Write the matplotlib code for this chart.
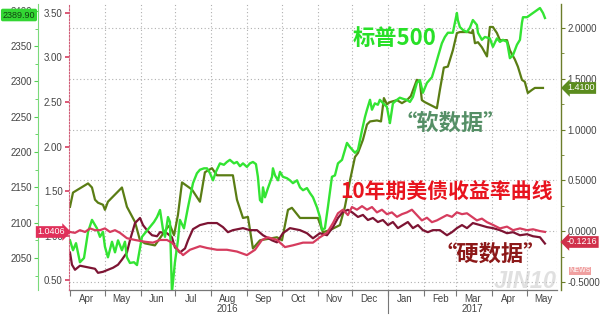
import matplotlib
matplotlib.use('Agg')
import matplotlib.pyplot as plt
import datetime as dt

# ---------------- data (x = days since 2016-04-01) ----------------
BASE = dt.date(2016, 4, 1)

sp_day = [0, 2.6, 5.2, 8.6, 12.1, 15.6, 19, 23.3, 25.9, 28.5, 30.2, 32.8, 36.3, 38.9, 41.5, 44.9, 47.5,
          49.2, 51.8, 55.3, 57.9, 62.2, 65.7, 69.1, 72.6, 75.2, 77.8, 80.4, 82.1, 84.7, 86.4, 88.1, 90.7,
          93.3, 95, 98.5, 102, 106.3, 109.7, 112.3, 115.8, 118.4, 121, 123.6, 126.1, 129.6, 133, 135.6,
          138.2, 141.7, 144.3, 146.9, 149.5, 152.9, 155.5, 158.1, 160.7, 162.4, 164.2, 165.9, 166.8,
          168.5, 171.1, 174.6, 175.4, 177.2, 179.8, 181.5, 184, 187.5, 190.1, 192.7, 196.2, 198.8, 201.4,
          204.8, 207.4, 210, 213.4, 216, 217.7, 220.3, 222.9, 226.4, 229, 231.6, 235.1, 239.4, 242,
          246.3, 248.9, 252.4, 255, 256.7, 259.3, 261, 263.5, 266.1, 267.8, 271.3, 273.9, 276.5, 279.1,
          282.6, 285.1, 288.6, 291.2, 293.8, 296.4, 299.8, 302.4, 305, 308.5, 312.8, 315.4, 318, 321.4,
          324, 326.6, 330.9, 334.4, 335.2, 337, 339.6, 343, 345.6, 348.2, 351.7, 352.6, 356, 358.6,
          362.9, 365.5, 369, 371.6, 374.2, 377.7, 378.5, 380.2, 382.8, 386.3, 388.9, 390.6, 391.5, 395,
          397.6, 400.2, 403.6, 406.2, 408.8, 410.5]
sp_val = [2075, 2061, 2071, 2044, 2050, 2087, 2104, 2092, 2080, 2087, 2066, 2051, 2073, 2058, 2075,
          2061, 2073, 2051, 2043, 2044, 2040, 2080, 2087, 2094, 2101, 2108, 2118, 2090, 2080, 2108,
          2101, 2001, 2044, 2075, 2104, 2092, 2122, 2156, 2170, 2175, 2177, 2177, 2170, 2160, 2172,
          2184, 2182, 2186, 2189, 2184, 2186, 2180, 2184, 2179, 2184, 2186, 2183, 2165, 2132, 2129,
          2150, 2136, 2149, 2165, 2177, 2167, 2160, 2172, 2165, 2163, 2160, 2156, 2160, 2150, 2146,
          2149, 2142, 2136, 2122, 2108, 2090, 2092, 2122, 2165, 2167, 2184, 2189, 2213, 2207, 2199,
          2203, 2231, 2250, 2260, 2274, 2260, 2269, 2267, 2274, 2268, 2264, 2241, 2269, 2274, 2277,
          2275, 2274, 2271, 2278, 2298, 2302, 2284, 2298, 2306, 2320, 2335, 2354, 2363, 2369, 2369,
          2397, 2387, 2377, 2373, 2370, 2376, 2387, 2380, 2369, 2359, 2363, 2361, 2349, 2361, 2356,
          2359, 2356, 2349, 2333, 2337, 2352, 2359, 2383, 2391, 2391, 2394, 2397, 2401, 2404, 2397,
          2389.9]

soft_day = [0, 2.6, 6.9, 15.6, 19, 21.6, 24.2, 28.5, 30.2, 32.8, 44.9, 49.2, 56.2, 60.5, 64.8, 73.4,
            83.8, 86.4, 89.9, 93.3, 96.8, 105.4, 112.3, 116.6, 122.7, 127, 140.8, 144.3, 149.5, 153.8,
            158.1, 164.2, 178.9, 183.2, 188.4, 191.8, 198.8, 214.3, 218.6, 224.6, 233.3, 237.6, 242,
            246.3, 248.9, 253.2, 256.7, 259.3, 265.3, 268.8, 271.3, 273.9, 276.5, 282.6, 286.9, 291.2,
            294.6, 299.8, 302.4, 304.1, 306.7, 317.1, 319.7, 323.1, 326.6, 330.9, 334.4, 337, 343.9,
            347.3, 348.2, 350, 352.6, 356, 360.4, 362.9, 365.5, 369, 371.6, 377.7, 380.2, 384.5, 387.1,
            390.6, 393.1, 395.7, 399.2, 401.8, 408.8]
soft_val = [0.24, 0.38, 0.41, 0.47, 0.43, 0.31, 0.28, 0.26, 0.21, 0.29, 0.43, 0.24, 0.09, -0.09,
            -0.12, -0.14, 0.03, 0.06, -0.04, 0.16, 0.48, 0.41, 0.29, 0.58, 0.62, 0.55, 0.55, 0.31,
            0.13, 0.14, -0.17, -0.09, -0.06, -0.09, 0.21, 0.23, 0.13, 0.13, -0.01, 0.01, 0.06, 0.24,
            0.50, 0.73, 0.77, 0.90, 1.05, 1.08, 1.09, 1.08, 1.31, 1.25, 1.27, 1.29, 1.26, 1.29, 1.33,
            1.49, 1.47, 1.29, 1.27, 1.21, 1.39, 1.61, 1.62, 1.78, 1.95, 1.96, 1.96, 1.95, 1.98, 1.85,
            1.86, 1.81, 1.72, 2.01, 2.01, 1.95, 1.88, 1.88, 1.78, 1.69, 1.62, 1.49, 1.47, 1.36, 1.39,
            1.41, 1.41]

hard_day = [0, 1.7, 4.3, 8.6, 13, 17.3, 21.6, 24.2, 28.5, 32.8, 37.2, 41.5, 44.9, 49.2, 51.8, 56.2,
            60.5, 63.1, 66.5, 70.9, 75.2, 77.8, 83.8, 88.1, 90.7, 95, 99.4, 102, 106.3, 112.3, 119.2,
            127, 132.2, 136.5, 140.8, 149.5, 155.5, 161.6, 166.8, 174.6, 178.9, 184, 190.1, 198.8,
            204.8, 210, 216, 222.1, 227.3, 231.6, 235.9, 240.2, 244.5, 248.9, 253.2, 257.5, 261.8,
            266.1, 270.4, 274.8, 279.1, 283.4, 287.7, 292, 296.4, 300.7, 305, 309.3, 313.6, 319.7,
            325.8, 330.1, 334.4, 338.8, 343.1, 348.2, 354.4, 360.4, 365.5, 371.6, 377.7, 382.9, 388.9,
            395, 400.2, 406.2, 410.5]
hard_val = [-0.21, -0.33, -0.38, -0.34, -0.35, -0.36, -0.37, -0.41, -0.40, -0.38, -0.36, -0.33,
            -0.28, -0.21, -0.09, 0.08, 0.13, 0.06, 0.01, -0.04, -0.05, -0.01, -0.02, -0.06, -0.16,
            -0.21, -0.17, -0.09, 0.02, 0.06, 0.08, 0.08, 0.04, -0.01, 0.01, 0.03, 0.01, 0.01, -0.04,
            -0.09, -0.11, -0.02, 0.03, 0.01, -0.02, -0.07, -0.02, -0.04, 0.04, 0.13, 0.19, 0.21, 0.18,
            0.14, 0.16, 0.11, 0.13, 0.09, 0.11, 0.06, 0.09, 0.03, 0.06, 0.09, 0.03, 0.06, 0.01, -0.01,
            0.01, 0.01, -0.04, -0.01, 0.03, 0.06, 0.03, 0.08, 0.06, 0.04, 0.03, 0.01, -0.02, -0.01,
            -0.04, -0.03, -0.05, -0.06, -0.1216]

spread_day = [0, 4.3, 8.6, 13, 17.3, 21.6, 25.9, 30.2, 34.6, 38.9, 43.2, 49.2, 56.2, 64.8, 71.7, 77.8,
              83.8, 88.1, 93.3, 97.7, 103.7, 112.3, 118.4, 127, 135.6, 144.3, 152.9, 159.9, 165.9,
              171.1, 178.9, 185.8, 192.7, 201.4, 210, 216, 222.1, 227.3, 231.6, 235.9, 240.2, 243.7,
              248, 252.4, 256.7, 261, 265.3, 269.6, 273.9, 278.2, 282.6, 286.9, 291.2, 295.5, 299.8,
              304.1, 308.5, 312.8, 317.1, 321.4, 325.8, 330.1, 334.4, 338.8, 343.1, 347.4, 351.7, 356,
              360.4, 365.5, 371.6, 377.7, 382.9, 388.9, 395, 400.2, 406.2, 410.5]
spread_val = [1.04, 1.03, 1.06, 1.04, 1.08, 1.06, 1.06, 1.08, 1.04, 1.06, 1.03, 0.97, 0.95, 0.93,
              0.92, 0.95, 0.95, 0.92, 0.84, 0.78, 0.84, 0.88, 0.86, 0.84, 0.84, 0.82, 0.78, 0.84, 0.95,
              0.98, 0.95, 0.87, 0.89, 0.92, 0.92, 0.98, 1.03, 1.14, 1.25, 1.29, 1.23, 1.32, 1.29, 1.33,
              1.29, 1.32, 1.26, 1.29, 1.24, 1.26, 1.21, 1.24, 1.26, 1.29, 1.23, 1.17, 1.20, 1.15, 1.17,
              1.20, 1.23, 1.21, 1.26, 1.24, 1.25, 1.21, 1.17, 1.19, 1.15, 1.12, 1.08, 1.10, 1.06, 1.08,
              1.06, 1.07, 1.05, 1.0406]

month_labels = ['Apr', 'May', 'Jun', 'Jul', 'Aug', 'Sep', 'Oct', 'Nov', 'Dec',
                'Jan', 'Feb', 'Mar', 'Apr', 'May']
sp_ticks = [2050, 2100, 2150, 2200, 2250, 2300, 2350, 2400]
spread_ticks = [0.5, 1.0, 1.5, 2.0, 2.5, 3.0, 3.5]
right_ticks = [-0.5, 0.0, 0.5, 1.0, 1.5, 2.0]

# ---------------- styling ----------------
C_SP = '#33e433'
C_SOFT = '#5a7d14'
C_SPREAD = '#d63c5e'
C_HARD = '#7d1433'
C_TXT = '#444444'
plt.rcParams['font.family'] = ['Liberation Sans', 'Noto Sans CJK SC', 'DejaVu Sans']
CJK = ['Noto Sans CJK SC', 'DejaVu Sans']

W, H = 600, 315
L, R, T, B = 69, 557, 4, 290
PXD = 1.157  # px per day
fig = plt.figure(figsize=(W / 100, H / 100), dpi=100)
fig.patch.set_facecolor('white')
rect = [L / W, 1 - B / H, (R - L) / W, (B - T) / H]

ax = fig.add_axes(rect)          # soft / hard data, right axis
ax_sp = ax.twinx()               # S&P 500, outer left axis
ax_yc = ax.twinx()               # yield curve, inner left axis

xmin = (L - 70) / PXD
xmax = (R - 70) / PXD
for a in (ax, ax_sp, ax_yc):
    a.set_xlim(xmin, xmax)
    a.patch.set_visible(False)
    for s in a.spines.values():
        s.set_visible(False)

ax.set_ylim(-0.579, 2.236)
ax_sp.set_ylim(2004.7, 2409.7)
ax_yc.set_ylim(0.388, 3.601)

# month positions
month_starts = []
d = dt.date(2016, 4, 1)
while d <= dt.date(2017, 5, 1):
    month_starts.append((d - BASE).days)
    d = dt.date(d.year + (d.month // 12), d.month % 12 + 1, 1)
mid_months = [m + 14 for m in month_starts]

# grid
for m in month_starts[1:]:
    ax.axvline(m, color='#b0b0b0', lw=0.8, ls=(0, (1, 2.2)), zorder=0)
ax.axvline(xmax - 0.3, color='#b0b0b0', lw=0.8, ls=(0, (1, 2.2)), zorder=0)
for v in right_ticks:
    ax.axhline(v, color='#b0b0b0', lw=0.8, ls=(0, (1, 2.2)), zorder=0)

# lines
ax.plot(soft_day, soft_val, color=C_SOFT, lw=1.6, zorder=3)
ax.plot(hard_day, hard_val, color=C_HARD, lw=1.6, zorder=3)
ax_sp.plot(sp_day, sp_val, color=C_SP, lw=1.7, zorder=3)
ax_yc.plot(spread_day, spread_val, color=C_SPREAD, lw=1.6, zorder=3)

# x axis
ax.spines['bottom'].set_visible(True)
ax.spines['bottom'].set_color('#777777')
ax.spines['bottom'].set_linewidth(0.9)
ax.set_xticks(month_starts)
ax.set_xticklabels([])
ax.set_xticks(mid_months, minor=True)
ax.set_xticklabels(month_labels, minor=True)
ax.tick_params(axis='x', which='major', length=4, color='#777777', width=0.8)
ax.tick_params(axis='x', which='minor', length=0, pad=3, labelsize=7, labelcolor=C_TXT)
for a in (ax_sp, ax_yc):
    a.tick_params(axis='x', which='both', bottom=False, top=False, labelbottom=False)
jan = (dt.date(2017, 1, 1) - BASE).days
ax.plot([jan, jan], [0, -0.08], transform=ax.get_xaxis_transform(), color='#777777',
        lw=0.8, clip_on=False)
ax.text((dt.date(2016, 8, 15) - BASE).days, -0.065, '2016', transform=ax.get_xaxis_transform(),
        ha='center', va='center', fontsize=7, color=C_TXT)
ax.text((dt.date(2017, 3, 15) - BASE).days, -0.065, '2017', transform=ax.get_xaxis_transform(),
        ha='center', va='center', fontsize=7, color=C_TXT)

# right axis (soft / hard)
ax.yaxis.tick_right()
ax.spines['right'].set_visible(True)
ax.spines['right'].set_position(('axes', (561 - L) / (R - L)))
ax.spines['right'].set_color('#6b7d2a')
ax.spines['right'].set_linewidth(1.0)
ax.set_yticks(right_ticks)
ax.set_yticklabels(['%.4f' % v if v >= 0 else '-%.4f' % abs(v) for v in right_ticks])
ax.set_yticks([-0.25, 0.25, 0.75, 1.25, 1.75], minor=True)
ax.tick_params(axis='y', which='major', length=3, color='#6b7d2a', labelsize=7,
               labelcolor=C_TXT, pad=1.5)
ax.tick_params(axis='y', which='minor', length=2, color='#6b7d2a')

# outer left axis (S&P)
ax_sp.yaxis.tick_left()
ax_sp.spines['left'].set_visible(True)
ax_sp.spines['left'].set_position(('axes', (38 - L) / (R - L)))
ax_sp.spines['left'].set_color('#7ada7a')
ax_sp.set_yticks(sp_ticks)
ax_sp.set_yticklabels([str(v) for v in sp_ticks])
ax_sp.set_yticks([2025, 2075, 2125, 2175, 2225, 2275, 2325, 2375], minor=True)
ax_sp.tick_params(axis='y', which='major', length=3, color='#55cc55', labelsize=7,
                  labelcolor=C_TXT, pad=1.5)
ax_sp.tick_params(axis='y', which='minor', length=2, color='#55cc55')

# inner left axis (yield curve)
ax_yc.yaxis.tick_left()
ax_yc.spines['left'].set_visible(True)
ax_yc.spines['left'].set_position(('axes', 0))
ax_yc.spines['left'].set_color('#d0607a')
ax_yc.spines['left'].set_linestyle((0, (1.5, 1.5)))
ax_yc.set_yticks(spread_ticks)
ax_yc.set_yticklabels(['%.2f' % v for v in spread_ticks])
ax_yc.tick_params(axis='y', which='major', length=3, color='#d63c5e', width=1.2,
                  labelsize=7, labelcolor=C_TXT, pad=1.5)

# value tags
def fx(x):
    return x / W

def fy(y):
    return 1 - y / H

fig.text(fx(19), fy(15), '%.2f' % sp_val[-1], ha='center', va='center', fontsize=6.5,
         color='#114411', bbox=dict(boxstyle='round,pad=0.2', fc='#33d633', ec='none'), zorder=10)
fig.text(fx(51), fy(232), '%.4f' % spread_val[-1], ha='center', va='center', fontsize=6.5,
         color='white', bbox=dict(boxstyle='rarrow,pad=0.15', fc='#e0305a', ec='none'), zorder=10)
fig.text(fx(581), fy(88), '%.4f' % soft_val[-1], ha='center', va='center', fontsize=6.5,
         color='white', bbox=dict(boxstyle='larrow,pad=0.15', fc='#5b8c1e', ec='none'), zorder=10)
fig.text(fx(582), fy(242), '%.4f' % hard_val[-1], ha='center', va='center', fontsize=6.5,
         color='white', bbox=dict(boxstyle='larrow,pad=0.15', fc='#d0304a', ec='none'), zorder=10)

# annotations
fig.text(fx(395), fy(38), '标普500', ha='center', va='center', fontsize=16, fontweight='bold',
         color='#28e028', family=CJK, zorder=11)
fig.text(fx(450), fy(123), '“软数据”', ha='center', va='center', fontsize=16, fontweight='bold',
         color='#558f66', family=CJK, zorder=11)
fig.text(fx(446), fy(192), '10年期美债收益率曲线', ha='center', va='center', fontsize=15,
         fontweight='bold', color='#e8141e', family=CJK, zorder=11)
fig.text(fx(490), fy(254), '“硬数据”', ha='center', va='center', fontsize=16, fontweight='bold',
         color='#8c1818', family=CJK, zorder=11)

# watermark
fig.text(fx(525), fy(282), 'JIN10', ha='center', va='center', fontsize=17, fontweight='bold',
         style='italic', color='#cccccc', alpha=0.6, zorder=9)
fig.text(fx(580), fy(271), 'NEWS', ha='center', va='center', fontsize=5, color='white',
         bbox=dict(boxstyle='square,pad=0.1', fc='#f0a0a0', ec='none'), zorder=9)

fig.savefig('out.png', dpi=100, facecolor='white')
